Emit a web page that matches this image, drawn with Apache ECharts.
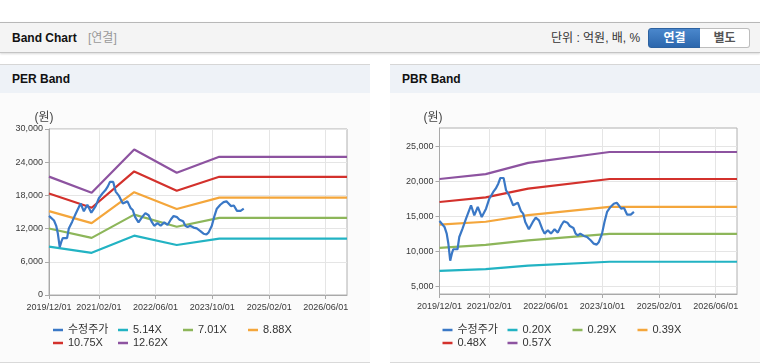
<!DOCTYPE html>
<html><head><meta charset="utf-8">
<script src="https://cdn.jsdelivr.net/npm/echarts@6/dist/echarts.min.js"></script>
<style>
html,body{margin:0;padding:0;width:760px;height:364px;overflow:hidden;background:#fff;font-family:'Liberation Sans','Noto Sans CJK KR',sans-serif;}
.topbar{position:absolute;left:0;top:22px;width:760px;height:29px;background:#f4f4f4;border-top:1px solid #b8b8b8;border-bottom:1px solid #c4c4c4;box-shadow:0 1px 2px rgba(0,0,0,0.15);}
.title{position:absolute;left:12px;top:0;line-height:30px;font-size:12px;font-weight:bold;color:#111;}
.sub{position:absolute;left:88px;top:0;line-height:30px;font-size:12px;color:#999;}
.unit{position:absolute;left:551px;top:0;line-height:30px;font-size:12px;color:#333;}
.btn{position:absolute;top:5px;height:18px;line-height:18px;font-size:12px;font-weight:bold;text-align:center;box-sizing:content-box;}
.b1{left:648px;width:51px;background:linear-gradient(#4a87cc,#2c67ad);color:#fff;border:1px solid #2d62a0;border-radius:3px 0 0 3px;}
.b2{left:700px;width:49px;background:#fff;color:#555;border:1px solid #bdbdbd;border-left:none;border-radius:0 3px 3px 0;}
.panel{position:absolute;top:64px;height:297px;background:#fbfbfb;border-top:1px solid #d6d6d6;border-bottom:1px solid #d9d9d9;}
.phead{height:28px;line-height:29px;background:#eef2f7;padding-left:12px;font-size:12px;font-weight:bold;color:#111;}
#chart{position:absolute;left:0;top:0;width:760px;height:364px;}
</style></head>
<body>
<div class="topbar">
  <div class="title">Band Chart</div><div class="sub">[연결]</div>
  <div class="unit">단위 : 억원, 배, %</div>
  <div class="btn b1">연결</div><div class="btn b2">별도</div>
</div>
<div class="panel" style="left:0;width:370px;"><div class="phead">PER Band</div></div>
<div class="panel" style="left:390px;width:370px;"><div class="phead">PBR Band</div></div>
<div id="chart"></div>
<script>
// ---- data ----
const xTickDates = ['2019-12-01','2021-02-01','2022-06-01','2023-10-01','2025-02-01','2026-06-01'];
const xMin = '2019-12-01', xMax = '2026-12-01';

const priceDates = ['2019-12-01','2020-01-13','2020-02-01','2020-02-15','2020-03-02','2020-03-16','2020-03-28','2020-05-04','2020-05-19','2020-06-16','2020-07-16','2020-08-28','2020-09-25','2020-10-25','2020-11-28','2021-01-04','2021-02-01','2021-03-07','2021-03-28','2021-04-19','2021-05-07','2021-06-04','2021-06-25','2021-07-22','2021-08-25','2021-10-04','2021-11-01','2021-11-19','2021-12-07','2022-01-07','2022-02-10','2022-03-07','2022-04-04','2022-05-01','2022-05-22','2022-06-19','2022-07-16','2022-08-16','2022-09-13','2022-10-13','2022-11-04','2022-12-04','2022-12-25','2023-01-25','2023-02-13','2023-03-04','2023-03-25','2023-04-25','2023-05-22','2023-06-22','2023-07-19','2023-08-13','2023-09-01','2023-09-28','2023-10-19','2023-11-10','2023-12-10','2024-01-07','2024-02-01','2024-02-19','2024-03-10','2024-04-04','2024-05-01','2024-06-01','2024-06-28'];
const priceValues = [14300,13460,12500,11100,8650,9650,10280,10280,12030,13210,14640,16550,15120,16310,14880,16070,17490,18450,18920,19630,20440,20440,18690,17970,16550,16920,15690,15360,14170,13130,14170,14800,14410,13210,12510,12990,12510,13130,12650,13700,14270,14070,13600,13310,12510,12270,12510,12180,12030,11560,11080,10940,11320,12510,14170,15600,16310,16780,16920,16550,16070,16170,15210,15210,15600];

const perDates = ['2019-12-01','2020-12-01','2021-12-01','2022-12-01','2023-12-01','2026-12-01'];
const per514 = [8730,7620,10720,9030,10180,10180];
const per701 = [12020,10330,14530,12330,13950,13950];
const per888 = [15150,12980,18580,15540,17590,17590];
const per1075 = [18330,15770,22330,18840,21360,21360];
const per1262 = [21390,18480,26300,22100,24970,24970];

const pbrDates = ['2019-12-01','2021-01-01','2022-01-01','2023-12-01','2026-12-01'];
const pbr020 = [7190,7450,7950,8500,8500];
const pbr029 = [10480,10900,11550,12480,12480];
const pbr039 = [13780,14200,15150,16320,16320];
const pbr048 = [17020,17680,18920,20300,20300];
const pbr057 = [20300,21000,22600,24150,24150];

const perNames = ['수정주가','5.14X','7.01X','8.88X','10.75X','12.62X'];
const pbrNames = ['수정주가','0.20X','0.29X','0.39X','0.48X','0.57X'];
const perYTicks = [0,6000,12000,18000,24000,30000];
const pbrYTicks = [5000,10000,15000,20000,25000];
const colors = ['#3a78c6','#22b3c3','#8db65a','#f4a63b','#d3312c','#8d53a0'];

// ---- chart ----
const FONT = "'Liberation Sans','Noto Sans CJK KR',sans-serif";
const pad = n => (n < 10 ? '0' : '') + n;
const ts = s => { const p = s.split('-').map(Number); return new Date(p[0], p[1] - 1, p[2]).getTime(); };
const fmtDate = v => { const d = new Date(Math.round(v)); return d.getFullYear() + '/' + pad(d.getMonth() + 1) + '/' + pad(d.getDate()); };
const fmtNum = v => Number(v).toLocaleString('en-US');
const pairs = (ds, vs) => ds.map((d, i) => [ts(d), vs[i]]);
const xTicks = xTickDates.map(ts);

function xAxis(gi) {
  return {
    type: 'value', gridIndex: gi, min: ts(xMin), max: ts(xMax),
    axisLine: { show: true, lineStyle: { color: '#a9a9a9' } },
    axisTick: { show: true, customValues: xTicks, length: 4, lineStyle: { color: '#a9a9a9' } },
    axisLabel: { customValues: xTicks, formatter: fmtDate, fontSize: 9, color: '#3a3a3a', margin: 8, fontFamily: FONT, hideOverlap: false },
    splitLine: { show: true, lineStyle: { color: '#e5e5e5' } }
  };
}
function yAxis(gi, min, max, ticks) {
  return {
    type: 'value', gridIndex: gi, min: min, max: max,
    axisLine: { show: true, lineStyle: { color: '#a9a9a9' } },
    axisTick: { show: true, customValues: ticks, length: 4, lineStyle: { color: '#a9a9a9' } },
    axisLabel: { customValues: ticks, formatter: fmtNum, fontSize: 9, color: '#3a3a3a', margin: 6, fontFamily: FONT },
    splitLine: { show: true, lineStyle: { color: '#e5e5e5' } }
  };
}
function line(name, gi, ds, vs, c, z) {
  return { type: 'line', name: name, xAxisIndex: gi, yAxisIndex: gi, data: pairs(ds, vs),
    showSymbol: false, symbol: 'none', color: c, lineStyle: { width: 2.2, color: c }, z: z || 2, silent: true };
}
const series = [];
const perBands = [per514, per701, per888, per1075, per1262];
const pbrBands = [pbr020, pbr029, pbr039, pbr048, pbr057];
perBands.forEach((b, i) => series.push(line(perNames[i + 1], 0, perDates, b, colors[i + 1])));
pbrBands.forEach((b, i) => series.push(line(pbrNames[i + 1], 1, pbrDates, b, colors[i + 1])));
series.push(line('수정주가', 0, priceDates, priceValues, colors[0], 5));
series.push(line('수정주가', 1, priceDates, priceValues, colors[0], 5));

const legends = [];
function addLegends(names, x0) {
  names.forEach((n, i) => {
    const col = i % 4, row = Math.floor(i / 4);
    legends.push({ data: [n], left: x0 + col * 65, top: 323.5 + row * 13, padding: 0,
      icon: 'rect', itemWidth: 10, itemHeight: 2.5, selectedMode: false,
      textStyle: { fontSize: 11, color: '#333', fontFamily: FONT, lineHeight: 13 } });
  });
}
addLegends(perNames, 53);
addLegends(pbrNames, 442.5);

const chart = echarts.init(document.getElementById('chart'), null, { renderer: 'canvas' });
chart.setOption({
  animation: false,
  backgroundColor: 'transparent',
  grid: [
    { left: 49, top: 129, width: 298, height: 166, show: true, backgroundColor: '#fff', borderColor: '#b0b0b0', borderWidth: 1 },
    { left: 439.5, top: 128, width: 297.5, height: 166, show: true, backgroundColor: '#fff', borderColor: '#b0b0b0', borderWidth: 1 }
  ],
  xAxis: [xAxis(0), xAxis(1)],
  yAxis: [yAxis(0, 0, 30000, perYTicks), yAxis(1, 3900, 27570, pbrYTicks)],
  legend: legends,
  graphic: [
    { type: 'text', x: 44, y: 117.5, style: { text: '(원)', font: '12px ' + FONT, fill: '#444', align: 'center', verticalAlign: 'middle' } },
    { type: 'text', x: 433, y: 117.5, style: { text: '(원)', font: '12px ' + FONT, fill: '#444', align: 'center', verticalAlign: 'middle' } }
  ],
  series: series
});
</script>
</body></html>
